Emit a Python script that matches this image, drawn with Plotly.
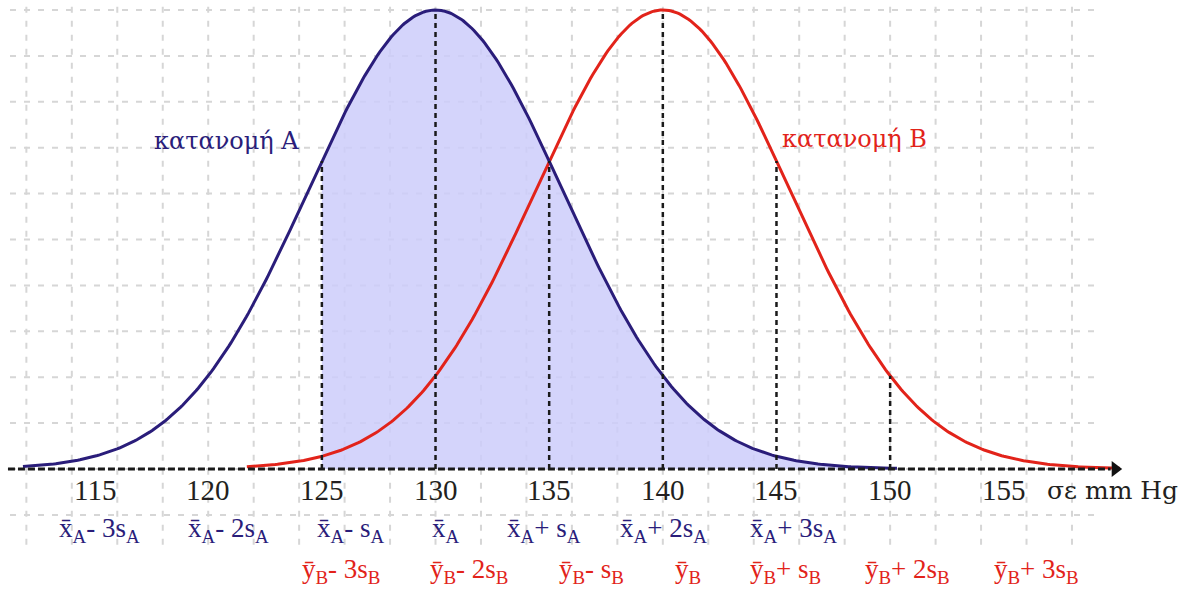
import numpy as np
import plotly.graph_objects as go

# ---------------- data ----------------
mean_A = 130.0           # x̄_A
mean_B = 140.0           # ȳ_B
s_step = 5.0             # s_A = s_B (label spacing)
curve_spread = 5.6       # spread of the drawn bell curves
peak_height = 1.0
A_start, A_end = 111.85, 150.3
B_start, B_end = 121.7, 160.1
fill_from = 125.0        # shaded area of distribution A starts here

tick_values = [115, 120, 125, 130, 135, 140, 145, 150, 155]
tick_labels = ["115", "120", "125", "130", "135", "140", "145", "150", "155"]
axis_title = "σε mm Hg"

A_labels = ["x̄<sub>A</sub>- 3s<sub>A</sub>", "x̄<sub>A</sub>- 2s<sub>A</sub>",
            "x̄<sub>A</sub>- s<sub>A</sub>", "x̄<sub>A</sub>",
            "x̄<sub>A</sub>+ s<sub>A</sub>", "x̄<sub>A</sub>+ 2s<sub>A</sub>",
            "x̄<sub>A</sub>+ 3s<sub>A</sub>"]
A_label_k = [-3, -2, -1, 0, 1, 2, 3]
B_labels = ["ȳ<sub>B</sub>- 3s<sub>B</sub>", "ȳ<sub>B</sub>- 2s<sub>B</sub>",
            "ȳ<sub>B</sub>- s<sub>B</sub>", "ȳ<sub>B</sub>",
            "ȳ<sub>B</sub>+ s<sub>B</sub>", "ȳ<sub>B</sub>+ 2s<sub>B</sub>",
            "ȳ<sub>B</sub>+ 3s<sub>B</sub>"]
B_label_k = [-3, -2, -1, 0, 1, 2, 3]
dist_labels = ["κατανομή A", "κατανομή B"]

# vertical dashed guide lines: (x, which curve they rise to)
guides = [(125, "A"), (130, "A"), (135, "A"), (140, "B"), (145, "B"), (150, "B")]

# ---------------- styling / layout ----------------
NAVY = "#2a1d7a"
RED = "#e2231a"
FILL = "rgba(205,205,250,0.85)"
GRID = "#d6d6d6"
FONT = "Liberation Serif"
GREEK_FONT = "DejaVu Serif"

X_RANGE = [110.84, 163.06]
Y_RANGE = [-0.2745, 1.0218]

# label left-edge offsets (in x units relative to their nominal value)
A_label_left_off = [-1.65, -0.98, -0.30, -0.24, -1.94, -1.97, -1.25]
B_label_left_off = [-0.96, -0.33, 0.35, 0.45, -1.25, -1.19, -0.52]


def bell(x, mu):
    return peak_height * np.exp(-0.5 * ((x - mu) / curve_spread) ** 2)


xa = np.linspace(A_start, A_end, 400)
xb = np.linspace(B_start, B_end, 400)
xf = np.linspace(fill_from, A_end, 300)

fig = go.Figure()

# shaded area under A
fig.add_trace(go.Scatter(x=xf, y=bell(xf, mean_A), mode="lines", line=dict(width=0),
                         fill="tozeroy", fillcolor=FILL, hoverinfo="skip", showlegend=False))

# curves
fig.add_trace(go.Scatter(x=xb, y=bell(xb, mean_B), mode="lines",
                         line=dict(color=RED, width=3), showlegend=False))
fig.add_trace(go.Scatter(x=xa, y=bell(xa, mean_A), mode="lines",
                         line=dict(color=NAVY, width=3), showlegend=False))

# dashed guides
gx, gy = [], []
for xv, c in guides:
    top = bell(np.array([xv]), mean_A if c == "A" else mean_B)[0]
    gx += [xv, xv, None]
    gy += [0, top, None]
fig.add_trace(go.Scatter(x=gx, y=gy, mode="lines",
                         line=dict(color="#1a1a1a", width=2.5, dash="5px,4px"),
                         showlegend=False, hoverinfo="skip"))

# horizontal axis (dashed) with arrow head
fig.add_trace(go.Scatter(x=[111.19, 159.7], y=[0, 0], mode="lines",
                         line=dict(color="#1a1a1a", width=3, dash="7px,3px"),
                         showlegend=False, hoverinfo="skip"))
fig.add_trace(go.Scatter(x=[159.9], y=[0], mode="markers",
                         marker=dict(symbol="triangle-right", size=14, color="#111111",
                                     line=dict(width=0)),
                         showlegend=False, hoverinfo="skip"))

# grid as dashed shapes
shapes = []
for gxv in range(112, 159, 2):
    shapes.append(dict(type="line", layer="below", x0=gxv, x1=gxv, y0=-0.165, y1=1.03,
                       line=dict(color=GRID, width=2, dash="6px,8px")))
for i in range(-1, 11):
    yv = i / 10
    shapes.append(dict(type="line", layer="below", x0=111.28, x1=159.0, y0=yv, y1=yv,
                       line=dict(color=GRID, width=2, dash="6px,8px")))

annotations = []
for v, t in zip(tick_values, tick_labels):
    annotations.append(dict(x=v, y=-0.046, text=t, showarrow=False, xanchor="center",
                            yanchor="middle", font=dict(family=FONT, size=29, color="#231f20")))
annotations.append(dict(x=156.81, y=-0.046, text=axis_title, showarrow=False, xanchor="left",
                        yanchor="middle", font=dict(family=GREEK_FONT, size=25, color="#231f20")))

for t, k, off in zip(A_labels, A_label_k, A_label_left_off):
    annotations.append(dict(x=mean_A + k * s_step + off, y=-0.133, text=t, showarrow=False,
                            xanchor="left", yanchor="middle",
                            font=dict(family=FONT, size=27, color=NAVY)))
for t, k, off in zip(B_labels, B_label_k, B_label_left_off):
    annotations.append(dict(x=mean_B + k * s_step + off, y=-0.222, text=t, showarrow=False,
                            xanchor="left", yanchor="middle",
                            font=dict(family=FONT, size=27, color=RED)))

annotations.append(dict(x=117.53, y=0.715, text=dist_labels[0], showarrow=False, xanchor="left",
                        yanchor="middle", font=dict(family=GREEK_FONT, size=24, color=NAVY)))
annotations.append(dict(x=145.16, y=0.72, text=dist_labels[1], showarrow=False, xanchor="left",
                        yanchor="middle", font=dict(family=GREEK_FONT, size=24, color=RED)))

fig.update_layout(
    width=1187, height=595,
    margin=dict(l=0, r=0, t=0, b=0),
    paper_bgcolor="white", plot_bgcolor="white",
    xaxis=dict(range=X_RANGE, visible=False, fixedrange=True),
    yaxis=dict(range=Y_RANGE, visible=False, fixedrange=True),
    shapes=shapes, annotations=annotations, showlegend=False,
)

fig.write_html("out.html", config={"displayModeBar": False},
               post_script="document.body.style.margin='0';document.body.style.overflow='hidden';")
